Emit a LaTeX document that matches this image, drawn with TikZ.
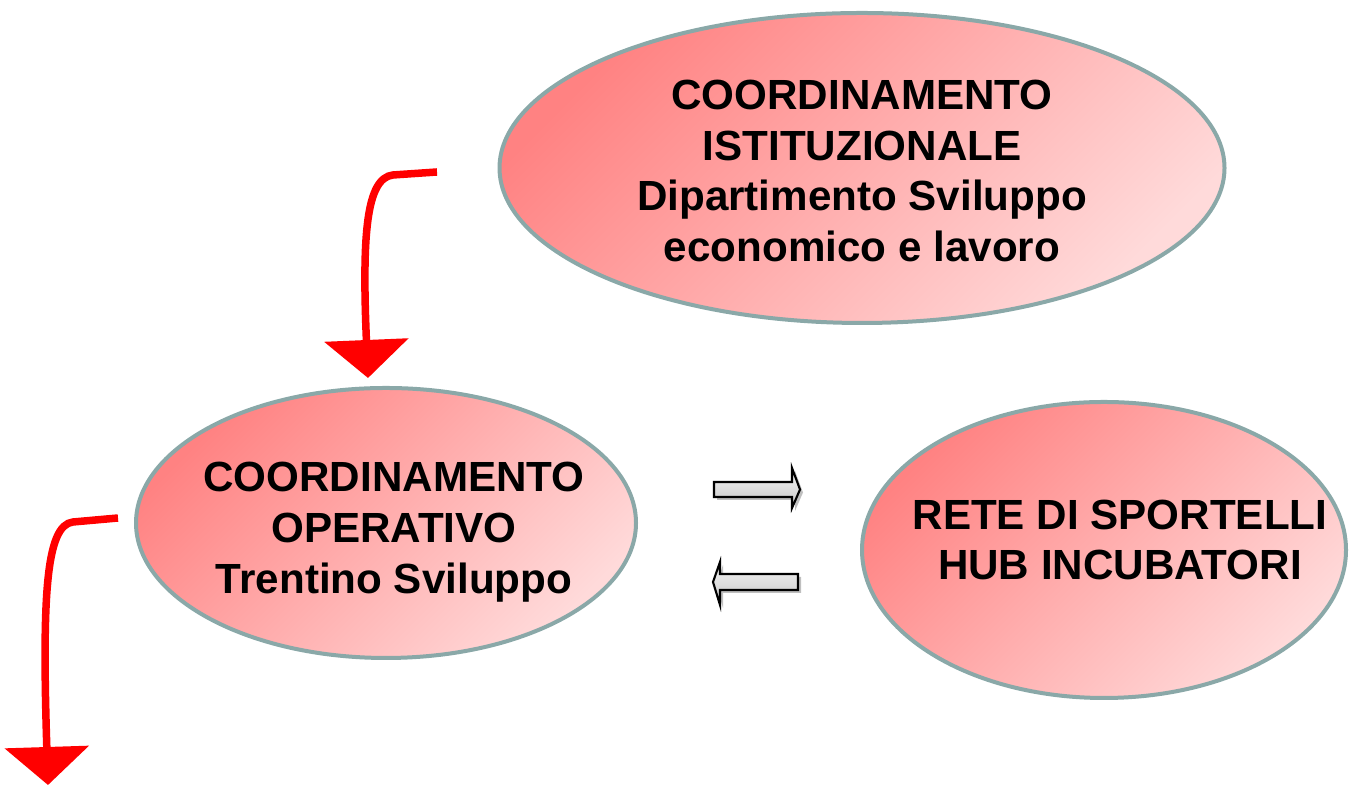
\documentclass[tikz,border=0pt]{standalone}
\usepackage{fontspec}
\setmainfont{Liberation Sans}
\usepackage{xcolor}
\usepackage{tikz}
\usetikzlibrary{shapes.geometric,arrows.meta,shadows}
\definecolor{rim}{RGB}{138,168,168}
\definecolor{salmon}{RGB}{255,130,130}
\definecolor{blush}{RGB}{255,218,218}

\begin{document}
\begin{tikzpicture}[scale = 1]
        \tikzstyle{bubble} = [ellipse, draw = rim, line width = 0.04cm, inner sep = 0pt, top color = salmon, bottom color = blush, shading angle = 45]
        \tikzstyle{caption} = [align = center, font = \fontsize{12}{14.5}\selectfont\bfseries, inner sep = 0pt]
        \tikzstyle{redarrow} = [draw = red, line width = 0.075cm, -{Triangle[width = 0.83cm, length = 0.38cm]}]
        \tikzstyle{blockarrow} = [draw = black, line width = 0.6pt, top color = gray!8, bottom color = gray!45, drop shadow = {shadow xshift = 0.03cm, shadow yshift = -0.03cm, opacity = 0.5}]
        \useasboundingbox (0, 0) rectangle (13.57, 7.86);

        \node(Istituzionale)[bubble, minimum width = 7.25cm, minimum height = 3.10cm] at (8.62, 6.18) {};
        \node(Istituzionale text)[caption] at (8.62, 6.15) {COORDINAMENTO\\ISTITUZIONALE\\Dipartimento Sviluppo\\economico e lavoro};

        \node(Operativo)[bubble, minimum width = 5.00cm, minimum height = 2.70cm] at (3.86, 2.63) {};
        \node(Operativo text)[caption] at (3.94, 2.54) {COORDINAMENTO\\OPERATIVO\\Trentino Sviluppo};

        \node(Rete)[bubble, minimum width = 4.84cm, minimum height = 2.96cm] at (11.04, 2.36) {};
        \node(Rete text)[caption] at (11.20, 2.46) {RETE DI SPORTELLI\\HUB INCUBATORI};

        \coordinate(Start1) at (4.37, 6.14);
        \coordinate(End1) at (3.68, 4.08);
        \draw [redarrow] (Start1) -- (3.93, 6.11) .. controls (3.66, 6.08) and (3.62, 5.5) .. (End1);

        \coordinate(Start2) at (1.18, 2.68);
        \coordinate(End2) at (0.48, 0.01);
        \draw [redarrow] (Start2) -- (0.73, 2.64) .. controls (0.46, 2.61) and (0.42, 1.9) .. (End2);

        \draw [blockarrow] (7.14, 3.04) -- (7.92, 3.04) -- (7.92, 3.18) -- (8.00, 2.965) -- (7.92, 2.78) -- (7.92, 2.89) -- (7.14, 2.89) -- cycle;
        \draw [blockarrow] (7.98, 2.12) -- (7.20, 2.12) -- (7.20, 2.24) -- (7.13, 2.04) -- (7.20, 1.81) -- (7.20, 1.96) -- (7.98, 1.96) -- cycle;

    \end{tikzpicture}
\end{document}
